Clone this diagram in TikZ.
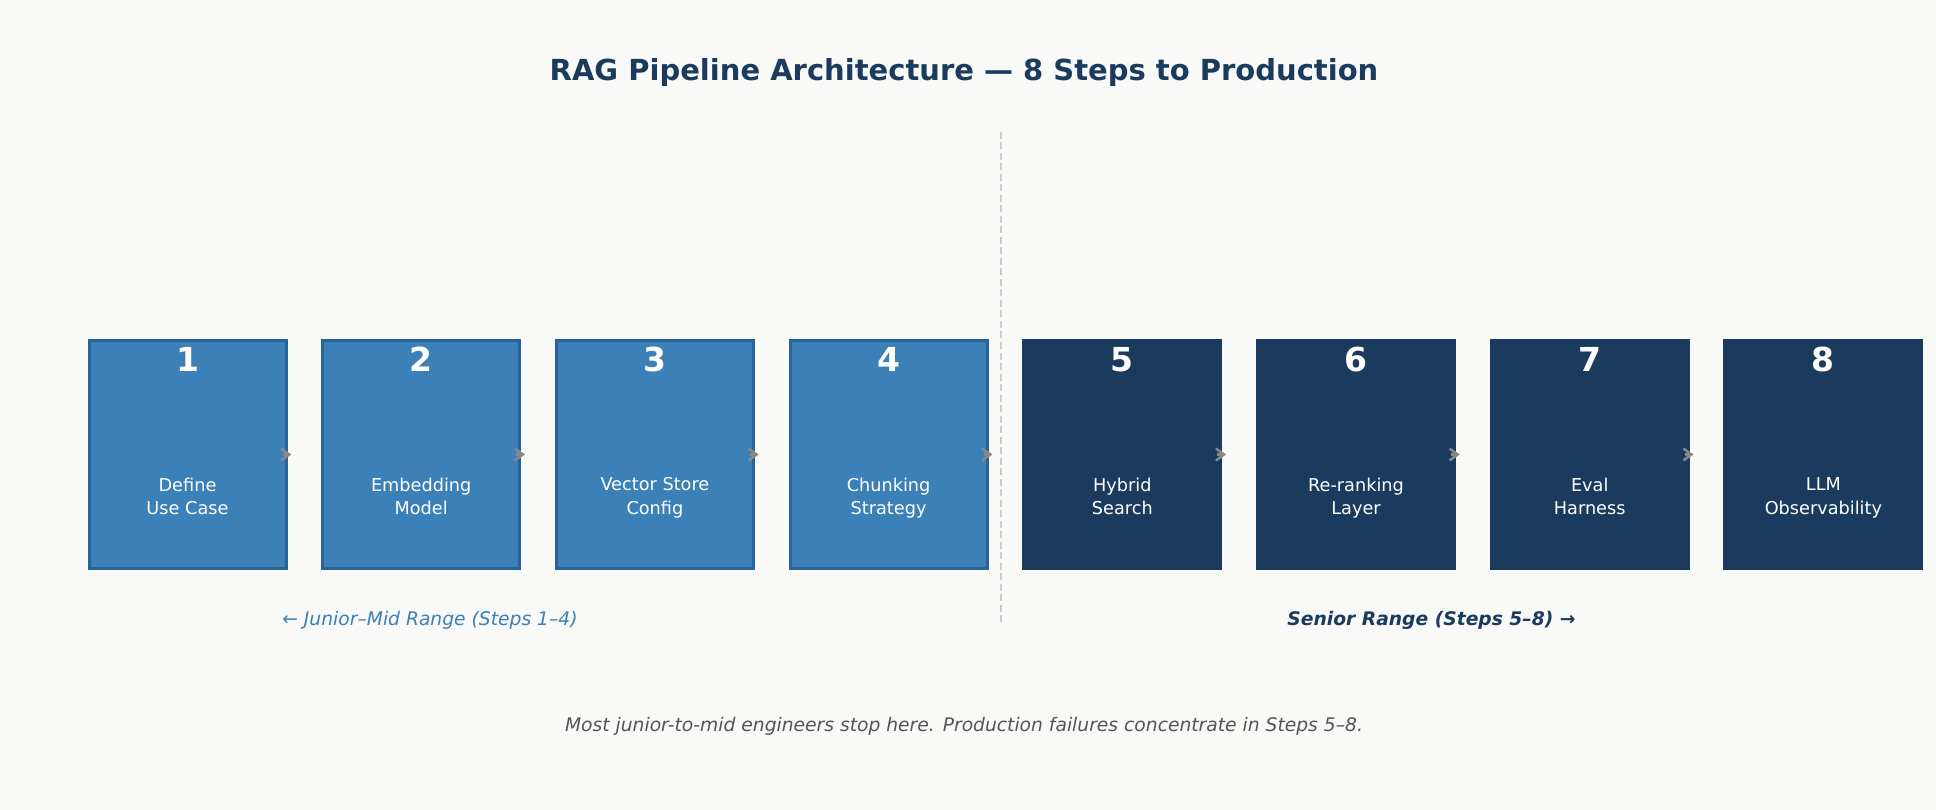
\documentclass[tikz,border=0pt]{standalone}
\usepackage{fontspec}
\setmainfont{DejaVu Sans}
\usepackage{xcolor}
\usepackage{tikz}
\usetikzlibrary{arrows.meta,positioning}
\definecolor{bgpaper}{HTML}{F9F9F8}
\definecolor{stepblue}{HTML}{3B80B7}
\definecolor{stepedge}{HTML}{2A6398}
\definecolor{stepnavy}{HTML}{1B3B5E}
\definecolor{arrgray}{HTML}{888888}
\definecolor{divgray}{HTML}{CCCCCC}
\definecolor{notegray}{HTML}{555555}

\begin{document}
\begin{tikzpicture}[x=1pt,y=-1pt,node distance=33.7pt,
  lbox/.style={draw=stepedge,line width=3pt,fill=stepblue,minimum width=197pt,minimum height=227pt,inner sep=0pt},
  dbox/.style={fill=stepnavy,minimum width=200pt,minimum height=230pt,inner sep=0pt,outer sep=0pt},
  num/.style={anchor=center,yshift=-20pt,text=white,font=\fontsize{33}{33}\selectfont\bfseries},
  txt/.style={anchor=center,yshift=-44pt,text=white,align=center,text depth=5pt,font=\fontsize{17.7}{23.3}\selectfont},
  arr/.style={-{Straight Barb[length=8pt,width=12pt]},line width=2.5pt,draw=arrgray,shorten <=-5pt,shorten >=30pt},
  divider/.style={draw=divgray,line width=2pt,dash pattern=on 7pt off 3.5pt}]
  \fill[bgpaper] (0,0) rectangle (1936,810);
  \useasboundingbox (0,0) rectangle (1936,810);
  \node[text=stepnavy,font=\fontsize{29}{34}\selectfont\bfseries] (title) at (964,73) {RAG Pipeline Architecture — 8 Steps to Production};
  % junior-mid steps
  \node[lbox,label={[num]north:1},label={[txt]center:{Define\\Use Case}}] (b1) at (187.5,454.5) {};
  \node[lbox,right=of b1,label={[num]north:2},label={[txt]center:{Embedding\\Model}}] (b2) {};
  \node[lbox,right=of b2,label={[num]north:3},label={[txt]center:{Vector Store\\Config}}] (b3) {};
  \node[lbox,right=of b3,label={[num]north:4},label={[txt]center:{Chunking\\Strategy}}] (b4) {};
  % senior steps
  \node[dbox,right=of b4,label={[num]north:5},label={[txt]center:{Hybrid\\Search}}] (b5) {};
  \node[dbox,right=of b5,label={[num]north:6},label={[txt]center:{Re-ranking\\Layer}}] (b6) {};
  \node[dbox,right=of b6,label={[num]north:7},label={[txt]center:{Eval\\Harness}}] (b7) {};
  \node[dbox,right=of b7,label={[num]north:8},label={[txt]center:{LLM\\Observability}}] (b8) {};
  \draw[arr] (b1) -- (b2); \draw[arr] (b2) -- (b3); \draw[arr] (b3) -- (b4); \draw[arr] (b4) -- (b5);
  \draw[arr] (b5) -- (b6); \draw[arr] (b6) -- (b7); \draw[arr] (b7) -- (b8);
  \coordinate (divtop) at (1001,132);
  \coordinate (divbot) at (1001,623);
  \draw[divider] (divtop) -- (divbot);
  \node[text=stepblue,font=\fontsize{18.7}{22}\selectfont\itshape] (junior) at (430,620) {← Junior–Mid Range (Steps 1–4)};
  \node[text=stepnavy,font=\fontsize{18.7}{22}\selectfont\bfseries\itshape] (senior) at (1431.5,620) {Senior Range (Steps 5–8) →};
  \node[text=notegray,font=\fontsize{18.7}{22}\selectfont\itshape] (note) at (964,726) {Most junior-to-mid engineers stop here. Production failures concentrate in Steps 5–8.};
\end{tikzpicture}
\end{document}
